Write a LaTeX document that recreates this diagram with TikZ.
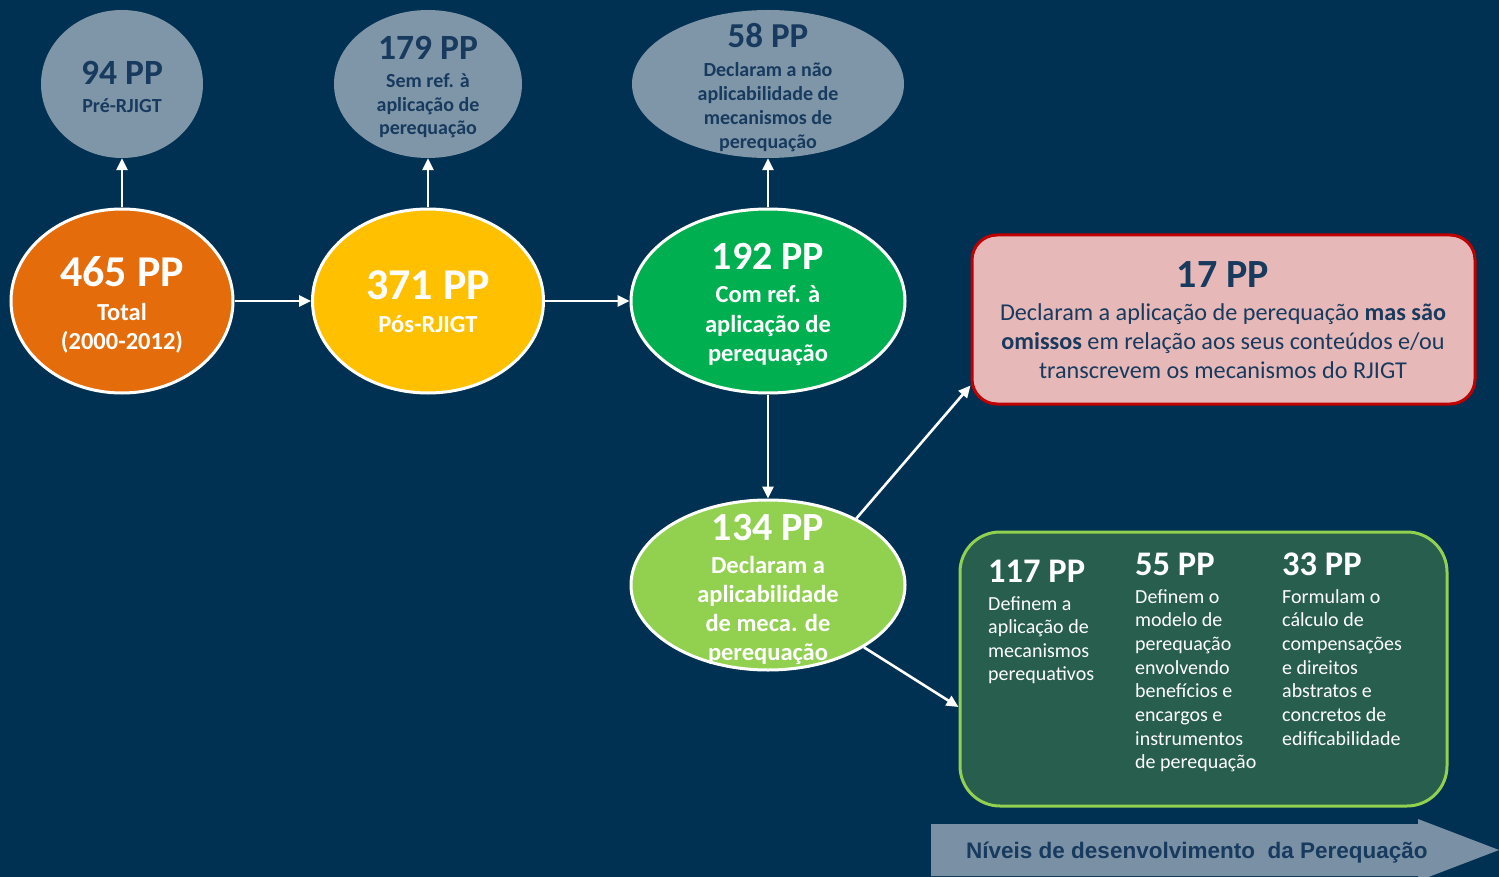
\documentclass[tikz,border=0pt]{standalone}
\usepackage{fontspec}
\setmainfont{Carlito}
\newfontfamily\arialf{Liberation Sans}
\usetikzlibrary{shapes.geometric,arrows.meta,calc}
\definecolor{bg}{HTML}{003152}
\definecolor{grayel}{HTML}{7F96A8}
\definecolor{navy}{HTML}{173A5E}
\definecolor{orng}{HTML}{E46C0A}
\definecolor{yel}{HTML}{FFC000}
\definecolor{grn}{HTML}{00B050}
\definecolor{lgrn}{HTML}{92D050}
\definecolor{pinkbox}{HTML}{E6B9B8}
\definecolor{dred}{HTML}{C00000}
\definecolor{dgrn}{HTML}{275E4D}
\definecolor{arrowgray}{HTML}{7A91A5}
\newcommand\fs[2]{\fontsize{#1}{#2}\selectfont}
\newcommand\stackc[5]{% x, y0, dy, name, list
  \foreach \t [count=\i from 0] in {#5} \node[anchor=base, inner sep=0] (#4-\i) at (#1, #2+#3*\i) {\t};}
\newcommand\stackl[5]{%
  \foreach \t [count=\i from 0] in {#5} \node[anchor=base west, inner sep=0] (#4-\i) at (#1, #2+#3*\i) {\t};}
\begin{document}
\begin{tikzpicture}[x=1pt,y=-1pt,
  mainell/.style={ellipse, inner sep=0, draw=white, line width=3pt},
  grayell/.style={ellipse, inner sep=0, fill=grayel},
  conn/.style={draw=white, line width=2.6pt, -{Triangle[length=12pt,width=11pt]}},
  lbl/.style={anchor=base, inner sep=0}]
\fill[bg] (0,0) rectangle (1499,877);
\useasboundingbox (0,0) rectangle (1499,877);

% gray ellipses
\node[grayell, minimum width=162, minimum height=148] (pre) at (122,84) {};
\node[grayell, minimum width=188, minimum height=148] (sem) at (428,84) {};
\node[grayell, minimum width=272, minimum height=148] (nao) at (768,84) {};

% main ellipses
\node[mainell, fill=orng, minimum width=222, minimum height=184] (tot) at (122,301) {};
\node[mainell, fill=yel, minimum width=231, minimum height=184] (pos) at (428,301) {};
\node[mainell, fill=grn, minimum width=274, minimum height=184] (com) at (768,301) {};
\node[mainell, fill=lgrn, minimum width=274, minimum height=170] (dec) at (768,585) {};

% boxes
\node[draw=dred, fill=pinkbox, line width=3pt, rounded corners=25pt, inner sep=0,
      minimum width=503, minimum height=169] (omis) at (1223.5,319.5) {};
\node[draw=lgrn, fill=dgrn, line width=3pt, rounded corners=40pt, inner sep=0,
      minimum width=487, minimum height=274] (lev) at (1203.5,669) {};

% bottom arrow
\fill[arrowgray] (931,824) -- (1418,824) -- (1418,819) -- (1499,850) -- (1418,881)
  -- (1418,876) -- (931,876) -- cycle;
\node[lbl, anchor=base west, text=navy, font=\arialf\bfseries\fs{22.5}{25}] (niv) at (966,858)
  {Níveis de desenvolvimento \ da Perequação};

% connectors
\draw[conn] (tot) -- (pos);
\draw[conn] (pos) -- (com);
\draw[conn] (tot) -- (pre);
\draw[conn] (pos) -- (sem);
\draw[conn] (com) -- (nao);
\draw[conn] (com) -- (dec);
\draw[conn] (dec.37) -- ($(omis.south west)+(0,-20)$);
\draw[conn] (dec.-33) -- ($(lev.west)+(0,38)$);

% texts: gray ellipses
\begin{scope}[nodes={text=navy, font=\bfseries}]
  \node[lbl, font=\bfseries\fs{35.5}{36}] (preT) at (122,85) {94 PP};
  \node[lbl, font=\bfseries\fs{20}{20}] (preS) at (122,113) {Pré-RJIGT};
  \node[lbl, font=\bfseries\fs{35.5}{36}] (semT) at (428,60) {179 PP};
  \node[lbl, font=\bfseries\fs{35}{35}] (naoT) at (768,48) {58 PP};
\end{scope}
\begin{scope}[nodes={text=navy, font=\bfseries\fs{20}{20}}]
  \stackc{428}{88}{23.5}{semS}{Sem ref. à, aplicação de, perequação}
  \stackc{768}{77}{23.7}{naoS}{Declaram a não, aplicabilidade de, mecanismos de, perequação}
\end{scope}

% texts: main ellipses
\begin{scope}[nodes={text=white}]
  \node[lbl, font=\bfseries\fs{44}{44}] (totT) at (122,287) {465 PP};
  \node[lbl, font=\bfseries\fs{44}{44}] (posT) at (428,300) {371 PP};
  \node[lbl, font=\bfseries\fs{40}{40}] (comT) at (768,270) {192 PP};
  \node[lbl, font=\bfseries\fs{40}{40}] (decT) at (768,540) {134 PP};
\end{scope}
\begin{scope}[nodes={text=white, font=\bfseries\fs{24.5}{25}}]
  \stackc{122}{320}{29}{totS}{Total, (2000-2012)}
  \node[lbl] (posS) at (428,332) {Pós-RJIGT};
  \stackc{768}{303}{29}{comS}{Com ref. à, aplicação de, perequação}
  \stackc{768}{573}{29}{decS}{Declaram a, aplicabilidade, de meca. de, perequação}
\end{scope}

% red box text
\node[lbl, text=navy, font=\bfseries\fs{40}{40}] (omisT) at (1223,288) {17 PP};
\begin{scope}[nodes={text=navy, font=\fs{24.2}{25}}]
  \stackc{1223}{320}{29}{omisS}{Declaram a aplicação de perequação \textbf{mas são}, \textbf{omissos} em relação aos seus conteúdos e/ou, transcrevem os mecanismos do RJIGT}
\end{scope}

% green box text
\begin{scope}[nodes={text=white}]
  \node[lbl, anchor=base west, font=\bfseries\fs{34.5}{35}] (c1T) at (988,582) {117 PP};
  \node[lbl, anchor=base west, font=\bfseries\fs{34.5}{35}] (c2T) at (1135,575) {55 PP};
  \node[lbl, anchor=base west, font=\bfseries\fs{34.5}{35}] (c3T) at (1282,575) {33 PP};
\end{scope}
\begin{scope}[nodes={text=white, font=\fs{20}{20}}]
  \stackl{988}{610}{23.6}{c1S}{Definem a, aplicação de, mecanismos, perequativos}
  \stackl{1135}{603}{23.7}{c2S}{Definem o, modelo de, perequação, envolvendo, benefícios e, encargos e, instrumentos, de perequação}
  \stackl{1282}{603}{23.7}{c3S}{Formulam o, cálculo de, compensações, e direitos, abstratos e, concretos de, edificabilidade}
\end{scope}
\end{tikzpicture}
\end{document}
